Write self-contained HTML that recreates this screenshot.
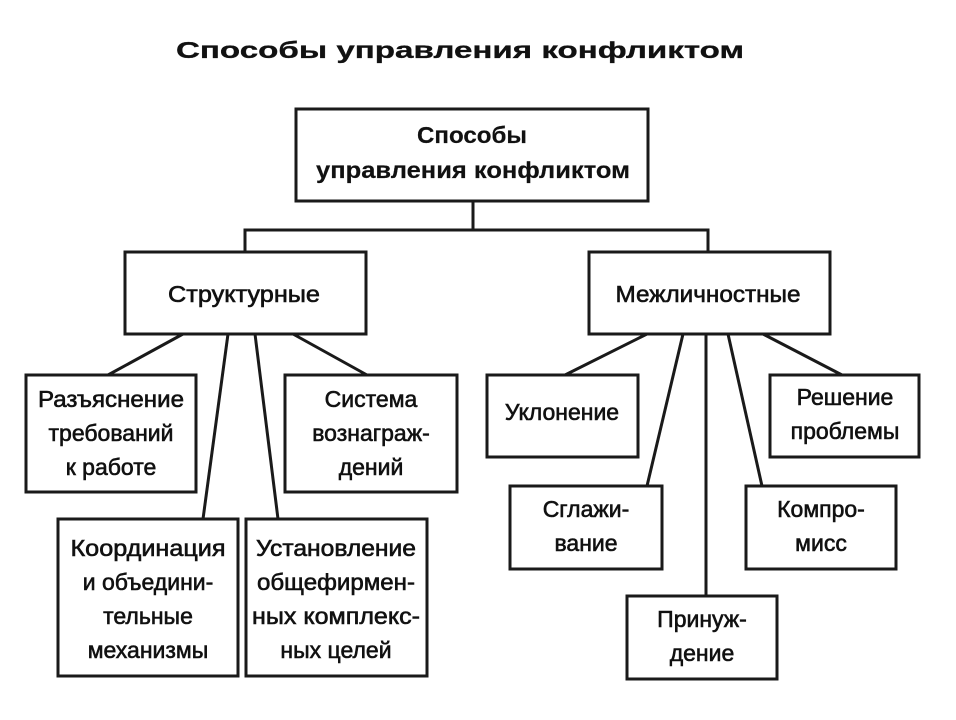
<!DOCTYPE html>
<html><head><meta charset="utf-8"><style>
html,body{margin:0;padding:0;background:#fff;}
svg{display:block}
text{font-family:"Liberation Sans","DejaVu Sans",sans-serif;fill:#111;text-anchor:middle;font-size:23px;stroke:#111;stroke-width:0.6}
</style></head><body>
<svg width="956" height="720" viewBox="0 0 956 720" xmlns="http://www.w3.org/2000/svg">
<rect width="956" height="720" fill="#fff"/>
<text x="460" y="58" font-size="34" font-weight="bold" textLength="568" lengthAdjust="spacingAndGlyphs" style="stroke-width:0.3">Способы  управления  конфликтом</text>
<g fill="none" stroke="#1a1a1a" stroke-width="3">
<rect x="296" y="109" width="352" height="92"/>
<polyline points="473,201 473,230"/>
<polyline points="245,252 245,230 708,230 708,252"/>
<rect x="125" y="252" width="241" height="82"/>
<rect x="589" y="252" width="241" height="82"/>
<rect x="26" y="375" width="170" height="117"/>
<rect x="285" y="375" width="172" height="117"/>
<rect x="58" y="519" width="180" height="157"/>
<rect x="246" y="519" width="181" height="157"/>
<rect x="487" y="375" width="151" height="82"/>
<rect x="770" y="375" width="149" height="82"/>
<rect x="510" y="486" width="152" height="83"/>
<rect x="746" y="486" width="150" height="83"/>
<rect x="627" y="596" width="150" height="83"/>
<line x1="183" y1="334" x2="108" y2="375"/>
<line x1="228" y1="334" x2="203" y2="519"/>
<line x1="255" y1="334" x2="278" y2="519"/>
<line x1="293" y1="334" x2="367" y2="375"/>
<line x1="647" y1="334" x2="565" y2="375"/>
<line x1="683" y1="334" x2="647" y2="486"/>
<line x1="706" y1="334" x2="706" y2="596"/>
<line x1="728" y1="334" x2="762" y2="486"/>
<line x1="763" y1="334" x2="842" y2="375"/>
</g>
<text x="472" y="143" font-weight="bold" font-size="25" textLength="110" lengthAdjust="spacingAndGlyphs" style="stroke-width:0.2">Способы</text>
<text x="473" y="178" font-weight="bold" font-size="25" textLength="314" lengthAdjust="spacingAndGlyphs" style="stroke-width:0.2">управления конфликтом</text>
<text x="244" y="302" textLength="152" lengthAdjust="spacingAndGlyphs">Структурные</text>
<text x="708" y="302" textLength="185" lengthAdjust="spacingAndGlyphs">Межличностные</text>
<text x="111" y="407" textLength="146" lengthAdjust="spacingAndGlyphs">Разъяснение</text>
<text x="111" y="441">требований</text>
<text x="111" y="475">к  работе</text>
<text x="371" y="407">Система</text>
<text x="371" y="441">вознаграж-</text>
<text x="371" y="475">дений</text>
<text x="148" y="556" textLength="155" lengthAdjust="spacingAndGlyphs">Координация</text>
<text x="148" y="590">и объедини-</text>
<text x="148" y="624">тельные</text>
<text x="148" y="658">механизмы</text>
<text x="336" y="556" textLength="160" lengthAdjust="spacingAndGlyphs">Установление</text>
<text x="336" y="590" textLength="158" lengthAdjust="spacingAndGlyphs">общефирмен-</text>
<text x="336" y="624" textLength="168" lengthAdjust="spacingAndGlyphs">ных комплекс-</text>
<text x="336" y="658">ных целей</text>
<text x="562" y="420">Уклонение</text>
<text x="845" y="405">Решение</text>
<text x="845" y="439">проблемы</text>
<text x="586" y="517">Сглажи-</text>
<text x="586" y="551">вание</text>
<text x="821" y="517">Компро-</text>
<text x="821" y="551">мисс</text>
<text x="702" y="627">Принуж-</text>
<text x="702" y="661">дение</text>
</svg>
</body></html>
